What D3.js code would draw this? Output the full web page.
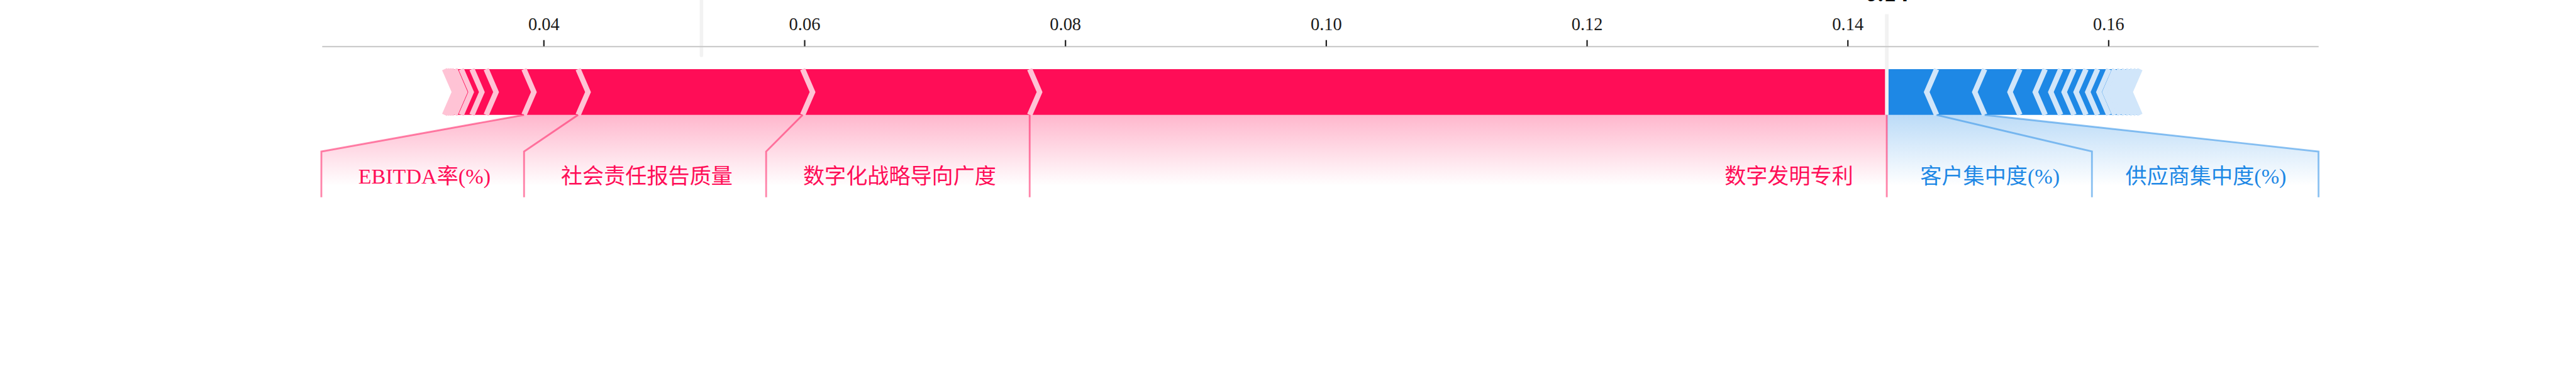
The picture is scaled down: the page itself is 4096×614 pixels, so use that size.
<!DOCTYPE html>
<html><head><meta charset="utf-8">
<script src="https://cdn.jsdelivr.net/npm/d3@7"></script>
<style>html,body{margin:0;padding:0;background:#fff;overflow:hidden}</style>
</head><body>
<script>
// ---- data ----
const baseValue = 0.0521;
const outValue = 0.1430;
const outLabel = "0.14";
const posNames = ["数字发明专利", "数字化战略导向广度", "社会责任报告质量", "EBITDA率(%)", "", "", "", "", "", "", "", ""];
const posEffects = [0.06573, 0.01741, 0.01722, 0.00415, 0.00290, 0.00109, 0.00082, 0.00049, 0.00030, 0.00017, 0.00016, 0.00016];
const negNames = ["客户集中度(%)", "供应商集中度(%)", "", "", "", "", "", "", "", "", "", "", "", "", "", ""];
const negEffects = [0.00382, 0.00369, 0.00270, 0.00194, 0.00119, 0.00102, 0.00092, 0.00089, 0.00086, 0.00046, 0.00040, 0.00036, 0.00033, 0.00030, 0.00027, 0.00027];
const tickValues = [0.04, 0.06, 0.08, 0.10, 0.12, 0.14, 0.16];
const xDomain = [0.0230, 0.1761];
const yDomain = [0.15, -0.5];

// ---- styles ----
const RED = "#FF0D57", RED_L = "#FFC3D5", BLUE = "#1E88E5", BLUE_L = "#D1E6FA";
const W = 6000, H = 900;
const sepIndent = 0.00076;
const offsetPx = 78;
const serif = "'Liberation Serif','Times New Roman','Noto Sans CJK SC',serif";

const svg = d3.select("body").append("svg")
  .attr("width", 4096).attr("height", 614)
  .attr("viewBox", `0 0 ${W} ${H}`).attr("preserveAspectRatio", "none");

const x = d3.scaleLinear().domain(xDomain).range([750, 5400]);
const y = d3.scaleLinear().domain(yDomain).range([108, 801]);
const line = d3.line().x(d => x(d[0])).y(d => y(d[1]));
const pxLine = d3.line();

const defs = svg.append("defs");
function grad(id, color) {
  const g = defs.append("linearGradient").attr("id", id)
    .attr("gradientUnits", "userSpaceOnUse")
    .attr("x1", 0).attr("x2", 0).attr("y1", y(0)).attr("y2", y(-0.155));
  g.append("stop").attr("offset", 0).attr("stop-color", color).attr("stop-opacity", 0.3);
  g.append("stop").attr("offset", 1).attr("stop-color", "#ffffff").attr("stop-opacity", 0.3);
}
grad("gPos", RED); grad("gNeg", BLUE);

const gShade = svg.append("g");
const gBars = svg.append("g");
const gLines = svg.append("g");
const gTop = svg.append("g");
const gText = svg.append("g");

// ---- bars ----
function bars(effects, type) {
  let pre = outValue;
  const rects = [], seps = [];
  effects.forEach((e, i) => {
    let left, right, ind, sepPos;
    if (type === "pos") { left = pre - e; right = pre; pre = left; ind = sepIndent; sepPos = left; }
    else { left = pre; right = pre + e; pre = right; ind = -sepIndent; sepPos = right; }
    let pts;
    if (i === 0) {
      pts = type === "pos"
        ? [[left, 0], [right, 0], [right, 0.1], [left, 0.1], [left + ind, 0.05]]
        : [[right, 0], [left, 0], [left, 0.1], [right, 0.1], [right + ind, 0.05]];
    } else {
      pts = [[left, 0], [right, 0], [right + ind * 0.9, 0.05], [right, 0.1], [left, 0.1], [left + ind * 0.9, 0.05]];
    }
    rects.push(pts);
    seps.push([[sepPos, 0], [sepPos + ind, 0.05], [sepPos, 0.1]]);
  });
  const c = type === "pos" ? [RED, RED_L] : [BLUE, BLUE_L];
  gBars.selectAll(null).data(rects).enter().append("path")
    .attr("d", d => line(d) + "Z").attr("fill", c[0]);
  gBars.selectAll(null).data(seps).enter().append("path")
    .attr("d", d => line(d)).attr("fill", "none").attr("stroke", c[1])
    .attr("stroke-width", 12.5).attr("stroke-linejoin", "miter");
}
bars(posEffects, "pos");
bars(negEffects, "neg");

// ---- labels ----
function labels(effects, names, type) {
  const sign = type === "pos" ? 1 : -1;
  const color = type === "pos" ? RED : BLUE;
  const pad = type === "pos" ? 8 : -3;
  const y0 = y(0), y1 = y(-0.08), y2 = y(-0.18);
  const outPx = x(outValue);
  if (type === "pos") {
    gLines.append("path").attr("d", pxLine([[outPx, y0], [outPx, y2]]))
      .attr("stroke", color).attr("stroke-opacity", 0.5).attr("stroke-width", 4.2).attr("fill", "none");
  }
  let startPx = outPx, boxEnd = outPx, pre = outValue, preVal = outValue;
  for (let i = 0; i < effects.length; i++) {
    pre = pre - sign * effects[i];
    if (!names[i]) break;
    const val = pre;
    const vPx = x(val);
    const t = gText.append("text")
      .attr("x", startPx - sign * offsetPx).attr("y", y(-0.15))
      .attr("text-anchor", type === "pos" ? "end" : "start")
      .attr("font-family", serif).attr("font-size", 50).attr("fill", color)
      .text(names[i]);
    const tw = t.node().getComputedTextLength();
    const be = type === "pos" ? startPx - offsetPx - tw - pad : startPx + offsetPx + tw + pad;
    let pts;
    if (sign * be > sign * vPx) {
      pts = [[vPx, y0], [vPx, y2]];
      startPx = vPx; boxEnd = vPx;
    } else {
      boxEnd = be - sign * offsetPx;
      pts = [[vPx, y0], [boxEnd, y1], [boxEnd, y2]];
      startPx = boxEnd;
    }
    gLines.append("path").attr("d", pxLine(pts))
      .attr("stroke", color).attr("stroke-opacity", 0.5).attr("stroke-width", 4.2).attr("fill", "none");
    preVal = val;
  }
  const shade = [[outPx, y0], [x(preVal), y0], [boxEnd, y1], [boxEnd, y(-0.2)], [outPx, y(-0.2)]];
  gShade.append("path").attr("d", pxLine(shade) + "Z")
    .attr("fill", type === "pos" ? "url(#gPos)" : "url(#gNeg)");
}
labels(negEffects, negNames, "neg");
labels(posEffects, posNames, "pos");

// ---- base value & output lines ----
gTop.append("line")
  .attr("x1", x(baseValue)).attr("x2", x(baseValue)).attr("y1", 0).attr("y2", 129)
  .attr("stroke", "#F2F2F2").attr("stroke-width", 8.3).attr("stroke-linecap", "round");
gTop.append("line")
  .attr("x1", x(outValue)).attr("x2", x(outValue)).attr("y1", 33).attr("y2", y(0))
  .attr("stroke", "#F2F2F2").attr("stroke-width", 8.3);
gText.append("text")
  .attr("x", x(outValue)).attr("y", 2.5).attr("text-anchor", "middle")
  .attr("font-family", serif).attr("font-weight", "bold").attr("font-size", 58).attr("fill", "#000")
  .text(outLabel);

// ---- axis on top ----
const axis = d3.axisTop(x).tickValues(tickValues).tickFormat(d3.format(".2f"))
  .tickSizeInner(14.6).tickSizeOuter(0).tickPadding(23);
const gAxis = gTop.append("g").attr("transform", `translate(0,${y(0.15)})`).call(axis);
gAxis.select(".domain").attr("stroke", "#cccccc").attr("stroke-width", 3.3);
gAxis.selectAll(".tick line").attr("stroke", "#222").attr("stroke-width", 3.3);
gAxis.selectAll(".tick text").attr("font-family", serif).attr("font-size", 41.7).attr("fill", "#1a1a1a");
</script>
</body></html>
